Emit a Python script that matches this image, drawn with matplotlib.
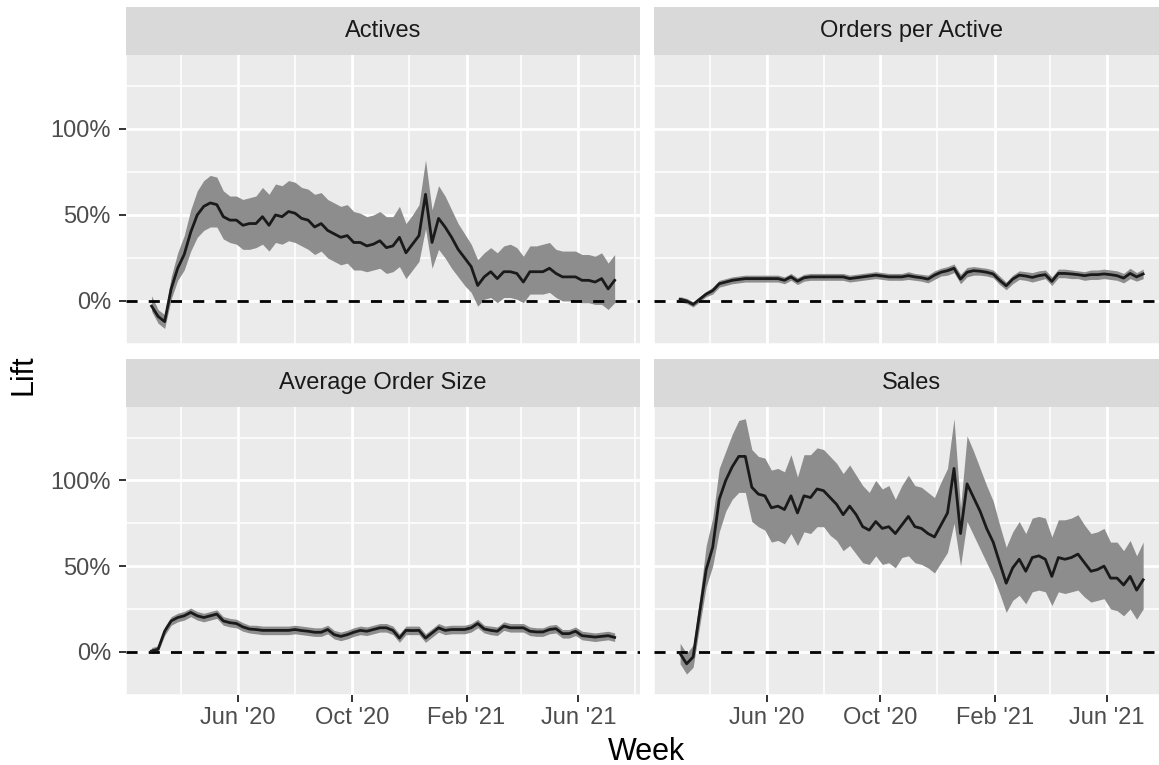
"""
Weekly lift by metric, 2x2 facet grid in ggplot style.
"""
import pandas as pd
import matplotlib
matplotlib.use('Agg')
import matplotlib.pyplot as plt
import matplotlib.dates as mdates

plt.rcParams['font.family'] = ['Liberation Sans', 'DejaVu Sans']

WEEKS = pd.date_range('2020-02-29', periods=72, freq='7D')

ACTIVES = [-3, -9, -12, 7, 19, 27, 40, 50, 55, 57, 56, 49, 47, 47, 44, 45, 45, 49, 44, 50,
           49, 52, 51, 48, 47, 43, 45, 41, 39, 37, 38, 34, 34, 32, 33, 35, 31, 32, 37, 28,
           33, 38, 62, 34, 48, 43, 37, 30, 25, 20, 9, 14, 17, 13, 17, 17, 16, 11, 17, 17,
           17, 19, 16, 14, 14, 14, 12, 12, 11, 13, 7, 12]
ACTIVES_HI = [3, -5, -8, 14, 28, 38, 53, 64, 70, 73, 72, 64, 61, 61, 59, 60, 61, 66, 62, 68,
              67, 70, 69, 66, 65, 62, 63, 59, 57, 55, 56, 52, 51, 49, 50, 52, 49, 49, 55, 45,
              50, 56, 82, 53, 67, 61, 53, 45, 39, 33, 24, 28, 31, 28, 32, 33, 31, 26, 32, 32,
              33, 34, 30, 29, 29, 29, 27, 27, 26, 28, 22, 27]
ACTIVES_LO = [-6, -13, -16, 1, 12, 18, 29, 37, 41, 43, 43, 36, 34, 33, 30, 30, 31, 33, 29, 34,
              33, 35, 34, 32, 30, 27, 29, 25, 23, 21, 22, 18, 18, 17, 18, 19, 16, 17, 20, 13,
              18, 23, 42, 19, 30, 25, 19, 14, 9, 5, -3, 1, 2, -1, 2, 2, 1, -1, 4, 4,
              4, 5, 2, 0, 0, 0, -1, -1, -2, -2, -5, -1]

ORDERS = [1, 0, -2, 1, 4, 6, 10, 11, 12, 12.5, 13, 13, 13, 13, 13, 13, 12, 14, 11.5, 13.5,
          14, 14, 14, 14, 14, 14, 13, 13.5, 14, 14.5, 15, 14.5, 14, 14, 14, 14.7, 14, 13.5, 12.7, 15,
          16.7, 17.6, 19, 12.7, 16.7, 17.6, 17.3, 16.7, 15.7, 12, 8.8, 12.7, 15, 14.5, 13.7, 14.7,
          15.3, 11.4, 16, 16, 15.7, 15.3, 14.7, 15.3, 15.3, 15.7, 15.3, 14.7, 13.3, 16, 14, 15.7]
ORDERS_HI = [2.5, 1.5, -0.5, 2.5, 5.5, 8, 12, 13, 14, 14.5, 15, 15, 15, 15, 15, 15, 14, 16, 13.5, 15.5,
             16, 16, 16, 16, 16, 16, 15, 15.5, 16, 16.5, 17, 16.5, 16, 16, 16, 17, 16, 15.5, 15, 17.5,
             19, 20, 21.5, 15.5, 19.5, 20, 19.5, 19, 18, 14.5, 11, 15, 17.5, 17, 16.5, 17.5,
             18, 14, 18.5, 18.5, 18, 17.5, 17, 18, 18, 18.5, 18, 17.5, 16, 19, 16.5, 18.5]
ORDERS_LO = [-0.5, -1.5, -3.5, -0.5, 2.5, 4, 8, 9, 10, 10.5, 11, 11, 11, 11, 11, 11, 10, 12, 9.5, 11.5,
             12, 12, 12, 12, 12, 12, 11, 11.5, 12, 12.5, 13, 12.5, 12, 12, 12, 12.5, 12, 11.5, 10.5, 12.5,
             14.5, 15, 16.5, 10, 14, 15, 15, 14.5, 13.5, 9.5, 6.5, 10, 12.5, 12, 11, 12,
             13, 9, 13.5, 13.5, 13, 13, 12, 12.5, 12.5, 13, 12.5, 12, 10.5, 13, 11.5, 13]

ORDER_SIZE = [0.5, 1.5, 12, 18, 20, 21, 23, 21, 20, 21, 22, 18, 17, 16.5, 14.5, 13.3, 13, 12.5, 12.5, 12.5,
              12.5, 12.5, 13, 12.4, 12, 11.4, 11.4, 13, 10, 9, 10, 11.4, 12.5, 12, 13, 14, 14, 12.5, 8, 12.5,
              12.4, 12.5, 8, 11, 14, 12.5, 13, 13, 13, 14, 16.5, 13.3, 12.5, 12, 15, 14,
              14, 14, 12, 11.6, 11.6, 13, 13.5, 10.6, 10.6, 12, 9.4, 9, 8.6, 9, 9.4, 8.4]
ORDER_SIZE_HI = [2.5, 3.5, 14.5, 20.5, 22.5, 23.5, 25.5, 23.5, 22.5, 23.5, 24.5, 20.5, 19.5, 19, 17, 15.5,
                 15.5, 15, 15, 15, 15, 15, 15.5, 15, 14.5, 14, 14, 15.5, 12.5, 11.5, 12.5, 14, 15, 14.5,
                 15.5, 16.5, 16.5, 15, 10.5, 15, 15, 15, 10.5, 13.5, 16.5, 15, 15.5, 15.5, 15.5, 16.5,
                 19, 15.5, 15, 14.5, 17.5, 16.5, 16.5, 16.5, 14.5, 14, 14, 15.5, 16, 13, 13, 14.5,
                 12, 11.5, 11, 11.5, 12, 11]
ORDER_SIZE_LO = [-1, 0, 9.5, 15.5, 17.5, 18.5, 20.5, 18.5, 17.5, 18.5, 19.5, 15.5, 14.5, 14, 12, 11,
                 10.5, 10, 10, 10, 10, 10, 10.5, 10, 9.5, 9, 9, 10.5, 7.5, 6.5, 7.5, 9, 10, 9.5,
                 10.5, 11.5, 11.5, 10, 5.5, 10, 10, 10, 5.5, 8.5, 11.5, 10, 10.5, 10.5, 10.5, 11.5,
                 14, 11, 10, 9.5, 12.5, 11.5, 11.5, 11.5, 9.5, 9, 9, 10.5, 11, 8, 8, 9.5,
                 7, 6.5, 6, 6.5, 7, 6]

SALES = [-1, -7, -3, 23, 48, 61, 89, 100, 108, 114, 114, 96, 92, 91, 84, 85, 83, 91, 81, 91,
         90, 95, 94, 90, 86, 80, 85, 80, 73, 71, 76, 72, 73, 69, 74, 79, 73, 72, 69, 67,
         74, 81, 107, 69, 98, 90, 82, 72, 64, 52, 40, 49, 54, 47, 55, 56, 54, 44, 55, 54,
         55, 57, 52, 47, 48, 50, 43, 43, 39, 44, 36, 42]
SALES_HI = [5, -1, 4, 31, 62, 78, 107, 117, 127, 135, 136, 118, 114, 113, 106, 107, 105, 115, 102, 115,
            115, 119, 118, 114, 110, 104, 109, 103, 97, 93, 100, 95, 97, 89, 97, 103, 97, 96, 93, 90,
            99, 107, 136, 84, 126, 117, 107, 97, 88, 74, 61, 70, 76, 69, 78, 79, 78, 67, 77, 77,
            78, 80, 74, 69, 70, 72, 64, 64, 59, 65, 56, 64]
SALES_LO = [-7, -13, -9, 15, 38, 50, 70, 82, 89, 93, 93, 76, 73, 71, 64, 65, 63, 69, 62, 70,
            69, 73, 73, 68, 65, 59, 62, 57, 52, 51, 56, 51, 52, 49, 55, 56, 52, 51, 49, 46,
            52, 58, 75, 50, 76, 68, 60, 52, 44, 34, 23, 30, 33, 28, 35, 36, 35, 27, 35, 34,
            35, 36, 32, 29, 30, 31, 25, 24, 21, 25, 19, 25]

PANELS = [
    ('Actives', ACTIVES, ACTIVES_LO, ACTIVES_HI),
    ('Orders per Active', ORDERS, ORDERS_LO, ORDERS_HI),
    ('Average Order Size', ORDER_SIZE, ORDER_SIZE_LO, ORDER_SIZE_HI),
    ('Sales', SALES, SALES_LO, SALES_HI),
]

MAJOR_DATES = pd.to_datetime(['2020-06-01', '2020-10-01', '2021-02-01', '2021-06-01'])
MINOR_DATES = pd.to_datetime(['2020-02-01', '2020-04-01', '2020-08-01', '2020-12-01',
                              '2021-04-01', '2021-08-01'])
X_LABELS = ["Jun '20", "Oct '20", "Feb '21", "Jun '21"]
Y_MAJOR = [0, 50, 100]
Y_MINOR = [-25, 25, 75, 125]
Y_LABELS = ['0%', '50%', '100%']

W, H = 1159, 765
PANEL_BG = '#EBEBEB'
STRIP_BG = '#D9D9D9'
RIBBON = '#8D8D8D'

fig = plt.figure(figsize=(W / 100, H / 100), dpi=100)

# pixel boxes (left, top, right, bottom); the right column runs past the image edge
cols = [(125.5, 640), (654, 1168.5)]
rows = [(55, 344.3), (406.7, 695)]
strip_h = 48

jun20 = mdates.date2num(pd.Timestamp('2020-06-01'))
xlim = (jun20 - 117.9, jun20 + 431.2)

for k, (title, mid, lo, hi) in enumerate(PANELS):
    r, c = divmod(k, 2)
    x0, x1 = cols[c]
    y0, y1 = rows[r]
    ax = fig.add_axes([x0 / W, 1 - y1 / H, (x1 - x0) / W, (y1 - y0) / H])
    sax = fig.add_axes([x0 / W, 1 - y0 / H, (x1 - x0) / W, strip_h / H])

    sax.set_facecolor(STRIP_BG)
    sax.set_xticks([])
    sax.set_yticks([])
    for s in sax.spines.values():
        s.set_visible(False)
    sax.text(0.5, 0.5, title, ha='center', va='center', fontsize=17,
             color='#1A1A1A', transform=sax.transAxes)

    ax.set_facecolor(PANEL_BG)
    for s in ax.spines.values():
        s.set_visible(False)
    ax.set_axisbelow(True)

    ax.fill_between(WEEKS, lo, hi, color=RIBBON, linewidth=0, zorder=2)
    ax.axhline(0, color='black', linewidth=2.0, dashes=(4, 4), zorder=3)
    ax.plot(WEEKS, mid, color='#1A1A1A', linewidth=2.0, zorder=4)

    ax.set_xlim(xlim)
    ax.set_ylim(-25.2, 143)
    ax.set_xticks(MAJOR_DATES)
    ax.set_xticks(MINOR_DATES, minor=True)
    ax.set_yticks(Y_MAJOR)
    ax.set_yticks(Y_MINOR, minor=True)
    ax.grid(True, which='major', color='white', linewidth=2.0)
    ax.grid(True, which='minor', color='white', linewidth=1.1)

    ax.tick_params(which='minor', length=0)
    ax.tick_params(which='major', length=5, width=1.4, color='#333333',
                   labelsize=17, labelcolor='#4D4D4D')
    ax.tick_params(axis='y', pad=5.5)
    ax.tick_params(axis='x', pad=4)

    if c == 0:
        ax.set_yticklabels(Y_LABELS)
    else:
        ax.tick_params(axis='y', which='major', length=0, labelleft=False)
    if r == 1:
        ax.set_xticklabels(X_LABELS)
    else:
        ax.tick_params(axis='x', which='major', length=0, labelbottom=False)

fig.text(24 / W, 1 - 375 / H, 'Lift', rotation=90, ha='center', va='center',
         fontsize=22, color='black')
fig.text(646 / W, 1 - 760 / H, 'Week', ha='center', va='baseline',
         fontsize=22, color='black')

fig.savefig('out.png', dpi=100)
print("Saved: out.png")
